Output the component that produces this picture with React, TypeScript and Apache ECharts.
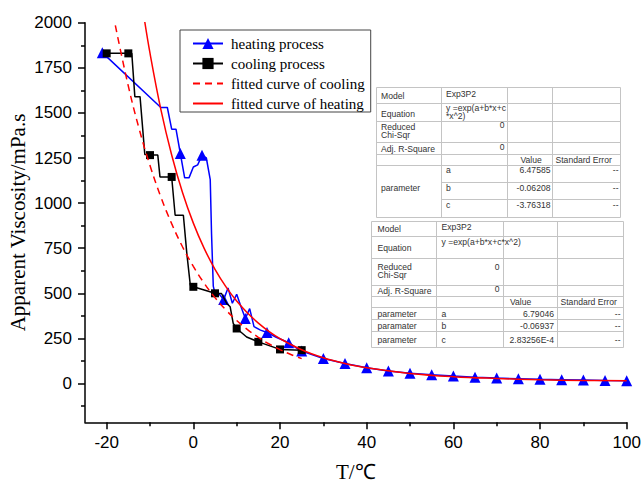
import React, { useEffect, useRef } from "react";
import * as echarts from "echarts";

// ---------- data ----------
const heatingT = [-21, -7.5, -6, -5, -4, -3, -2, -1, 0, 1, 2, 3, 3.9, 4.2, 4.6, 5, 6, 7, 8, 9, 10, 11, 12, 13, 14, 15.5, 17, 19, 22, 24, 25, 30, 35, 40, 45, 50, 55, 60, 65, 70, 75, 80, 85, 90, 95, 100];
const heatingV = [1834, 1530, 1530, 1410, 1410, 1275, 1140, 1140, 1200, 1212, 1265, 1250, 1130, 830, 540, 500, 495, 465, 530, 445, 495, 425, 360, 415, 315, 296, 283, 258, 226, 194, 180, 139, 111, 87, 70, 57, 48, 41, 35, 30, 27, 23, 21, 19, 17, 16];
const heatingMeasuredT = [-21, -3, 2, 7, 12, 17, 22, 25, 30, 35, 40, 45, 50, 55, 60, 65, 70, 75, 80, 85, 90, 95, 100];

const coolingT = [-20, -15, -14.2, -13.5, -12.3, -11.2, -10, -8.2, -7.7, -5, -4.2, -2.3, -1.5, -0.7, 0, 2.7, 5, 6.5, 7.7, 8.5, 9.2, 10, 12.3, 15, 20, 25];
const coolingV = [1830, 1830, 1830, 1590, 1590, 1270, 1266, 1266, 1145, 1145, 933, 933, 720, 545, 536, 517, 500, 499, 444, 425, 333, 305, 258, 231, 189, 185];
const coolingMeasuredT = [-20, -15, -10, -5, 0, 5, 10, 15, 20, 25];

const fitCoolT = [-18, -15, -12.5, -10, -7.5, -5, -2.5, 0, 2.5, 5, 7.5, 10, 12.5, 15, 17.5, 20, 22.5, 25];
const fitCoolV = [1985, 1648, 1411, 1208, 1034, 886, 758, 649, 556, 476, 408, 349, 299, 256, 219, 188, 161, 138];

const fitHeatT = [-11.5, -10, -7.5, -5, -2.5, 0, 2.5, 5, 7.5, 10, 12.5, 15, 17.5, 20, 25, 30, 35, 40, 50, 60, 70, 80, 90, 100];
const fitHeatV = [2050, 1831, 1520, 1267, 1059, 889, 749, 633, 537, 457, 391, 335, 288, 249, 187, 143, 111, 87, 56, 38, 28, 21, 17, 15];

const seriesNames = ["heating process", "cooling process", "fitted curve of cooling", "fitted curve of heating"];

const xTicks = [-20, 0, 20, 40, 60, 80, 100];
const xMinorTicks = [-10, 10, 30, 50, 70, 90];
const yTicks = [0, 250, 500, 750, 1000, 1250, 1500, 1750, 2000];
const yMinorTicks = [-125, 125, 375, 625, 875, 1125, 1375, 1625, 1875];

// fit table 1 (cooling)
const fit1Model = "Exp3P2";
const fit1EquationLines = ["y =exp(a+b*x+c", "*x^2)"];
const fit1Chi = "0";
const fit1R2 = "0";
const fit1Names = ["a", "b", "c"];
const fit1Values = ["6.47585", "-0.06208", "-3.76318"];
const fit1Errors = ["--", "--", "--"];

// fit table 2 (heating)
const fit2Model = "Exp3P2";
const fit2Equation = "y =exp(a+b*x+c*x^2)";
const fit2Chi = "0";
const fit2R2 = "0";
const fit2RowLabels = ["parameter", "paramater", "parameter"];
const fit2Names = ["a", "b", "c"];
const fit2Values = ["6.79046", "-0.06937", "2.83256E-4"];
const fit2Errors = ["--", "--", "--"];

// ---------- styles ----------
const SERIF = '"Times New Roman", "Liberation Serif", serif';
const SANS = 'Arial, "Liberation Sans", sans-serif';
const GRID_STROKE = "#c4c4c4";

function line(x1: number, y1: number, x2: number, y2: number) {
  return { type: "line", silent: true, shape: { x1, y1, x2, y2 }, style: { stroke: GRID_STROKE, lineWidth: 1 } };
}
function txt(text: string, x: number, y: number, align: string = "left") {
  return {
    type: "text",
    silent: true,
    x,
    y,
    style: { text, fill: "#333", fontSize: 8.6, fontFamily: SANS, align, verticalAlign: "middle", lineHeight: 9 },
  };
}

function buildTable1() {
  const c = [376.5, 441.5, 507.5, 552.5, 620.5];
  const r = [87.5, 103.5, 121.5, 142.5, 154.5, 165.5, 182.5, 199.5, 217.5];
  const els: any[] = [];
  els.push({ type: "rect", silent: true, shape: { x: c[0], y: r[0], width: c[4] - c[0], height: r[8] - r[0] }, style: { fill: "#fff", stroke: GRID_STROKE, lineWidth: 1 } });
  for (let i = 1; i < 4; i++) els.push(line(c[i], r[0], c[i], r[8]));
  for (let j = 1; j < 6; j++) els.push(line(c[0], r[j], c[4], r[j]));
  for (let j = 6; j < 8; j++) els.push(line(c[1], r[j], c[4], r[j]));
  els.push(txt("Model", 381, 95.5));
  els.push(txt(fit1Model, 446, 93.5));
  els.push(txt("Equation", 381, 114));
  els.push(txt(fit1EquationLines[0], 446, 107.5));
  els.push(txt(fit1EquationLines[1], 446, 116.3));
  els.push(txt("Reduced", 381, 126.5));
  els.push(txt("Chi-Sqr", 381, 135.3));
  els.push(txt(fit1Chi, 504.5, 124.5, "right"));
  els.push(txt("Adj. R-Square", 381, 148.5));
  els.push(txt(fit1R2, 504.5, 146.5, "right"));
  els.push(txt("Value", 520.5, 159.5));
  els.push(txt("Standard Error", 555.5, 159.5));
  els.push(txt("parameter", 381, 188));
  const ys = [170, 187.5, 205];
  fit1Names.forEach((n, i) => {
    els.push(txt(n, 446, ys[i]));
    els.push(txt(fit1Values[i], 550.5, ys[i], "right"));
    els.push(txt(fit1Errors[i], 618.5, ys[i], "right"));
  });
  return els;
}

function buildTable2() {
  const c = [371.5, 436.5, 503.5, 557.5, 623.5];
  const r = [221.5, 236.5, 258.5, 285.5, 296.5, 307.5, 319.5, 331.5, 347.5];
  const els: any[] = [];
  els.push({ type: "rect", silent: true, shape: { x: c[0], y: r[0], width: c[4] - c[0], height: r[8] - r[0] }, style: { fill: "#fff", stroke: GRID_STROKE, lineWidth: 1 } });
  for (let i = 1; i < 4; i++) els.push(line(c[i], r[0], c[i], r[8]));
  for (let j = 1; j < 8; j++) els.push(line(c[0], r[j], c[4], r[j]));
  els.push(txt("Model", 377.5, 229.3));
  els.push(txt(fit2Model, 441.5, 226.5));
  els.push(txt("Equation", 377.5, 248.3));
  els.push(txt(fit2Equation, 441.5, 242));
  els.push(txt("Reduced", 377.5, 266.5));
  els.push(txt("Chi-Sqr", 377.5, 275.3));
  els.push(txt(fit2Chi, 499.5, 266.7, "right"));
  els.push(txt("Adj. R-Square", 377.5, 290.7));
  els.push(txt(fit2R2, 499.5, 289, "right"));
  els.push(txt("Value", 510, 301.7));
  els.push(txt("Standard Error", 560.5, 301.7));
  const ys = [313.5, 325.8, 340];
  fit2Names.forEach((n, i) => {
    els.push(txt(fit2RowLabels[i], 377.5, ys[i]));
    els.push(txt(n, 441.5, ys[i]));
    els.push(txt(fit2Values[i], 554, ys[i], "right"));
    els.push(txt(fit2Errors[i], 620.5, ys[i], "right"));
  });
  return els;
}

function markedData(ts: number[], vs: number[], measured: number[], symbol: string) {
  const set = new Set(measured);
  return ts.map((t, i) => ({ value: [t, vs[i]], symbol: set.has(t) ? symbol : "none" }));
}

export default function App() {
  const ref = useRef<HTMLDivElement>(null);
  useEffect(() => {
    if (!ref.current) return;
    const chart = echarts.init(ref.current, null, { renderer: "svg" });
    const axisLineStyle = { color: "#000", width: 1.5 };
    const plain = (v: number) => String(v);
    const option: any = {
      animation: false,
      backgroundColor: "#fff",
      grid: { left: 85, right: 16.3, top: 22.7, bottom: 66.7, containLabel: false, outerBoundsMode: "none" },
      legend: {
        data: [
          { name: seriesNames[0] },
          { name: seriesNames[1] },
          { name: seriesNames[2], itemStyle: { opacity: 0 } },
          { name: seriesNames[3], itemStyle: { opacity: 0 } },
        ],
        orient: "vertical",
        left: 180,
        top: 30,
        padding: [6, 6, 1, 12],
        itemGap: 5,
        itemWidth: 30,
        itemHeight: 14,
        borderColor: "#444",
        borderWidth: 1,
        borderRadius: 0,
        backgroundColor: "#fff",
        selectedMode: false,
        textStyle: { fontFamily: SERIF, fontSize: 15, color: "#000", padding: [0, 0, 0, 3] },
      },
      xAxis: [
        {
          type: "value",
          min: -25,
          max: 100,
          position: "bottom",
          axisLine: { show: true, onZero: false, lineStyle: axisLineStyle },
          axisTick: { show: true, length: 7, customValues: xTicks, lineStyle: axisLineStyle },
          axisLabel: { customValues: xTicks, formatter: plain, fontSize: 17, fontFamily: SANS, color: "#000", margin: 12 },
          splitLine: { show: false },
          name: "T/℃",
          nameLocation: "middle",
          nameGap: 39,
          nameMoveOverlap: false,
          nameTextStyle: { fontFamily: SERIF, fontSize: 21, color: "#000" },
        },
        {
          type: "value",
          min: -25,
          max: 100,
          position: "bottom",
          axisLine: { show: false, onZero: false },
          axisTick: { show: true, length: 4, customValues: xMinorTicks, lineStyle: axisLineStyle },
          axisLabel: { show: false },
          splitLine: { show: false },
        },
      ],
      yAxis: [
        {
          type: "value",
          min: -215,
          max: 2000,
          position: "left",
          axisLine: { show: true, onZero: false, lineStyle: axisLineStyle },
          axisTick: { show: true, length: 7, customValues: yTicks, lineStyle: axisLineStyle },
          axisLabel: { customValues: yTicks, formatter: plain, fontSize: 17, fontFamily: SANS, color: "#000", margin: 13 },
          splitLine: { show: false },
          name: "Apparent Viscosity/mPa.s",
          nameLocation: "middle",
          nameGap: 57,
          nameMoveOverlap: false,
          nameTextStyle: { fontFamily: SERIF, fontSize: 21, color: "#000" },
        },
        {
          type: "value",
          min: -215,
          max: 2000,
          position: "left",
          axisLine: { show: false, onZero: false },
          axisTick: { show: true, length: 4, customValues: yMinorTicks, lineStyle: axisLineStyle },
          axisLabel: { show: false },
          splitLine: { show: false },
        },
      ],
      series: [
        {
          name: seriesNames[0],
          type: "line",
          xAxisIndex: 0,
          yAxisIndex: 0,
          symbol: "triangle",
          symbolSize: 11,
          showAllSymbol: true,
          color: "#0000ff",
          itemStyle: { color: "#0000ff" },
          lineStyle: { color: "#0000ff", width: 1.5 },
          data: markedData(heatingT, heatingV, heatingMeasuredT, "triangle"),
          z: 2,
        },
        {
          name: seriesNames[1],
          type: "line",
          xAxisIndex: 0,
          yAxisIndex: 0,
          symbol: "rect",
          symbolSize: 8,
          showAllSymbol: true,
          color: "#000",
          itemStyle: { color: "#000" },
          lineStyle: { color: "#000", width: 1.5 },
          data: markedData(coolingT, coolingV, coolingMeasuredT, "rect"),
          z: 3,
        },
        {
          name: seriesNames[2],
          type: "line",
          xAxisIndex: 0,
          yAxisIndex: 0,
          symbol: "none",
          smooth: 0.4,
          color: "#ff0000",
          lineStyle: { color: "#ff0000", width: 1.5, type: [7, 5] },
          data: fitCoolT.map((t, i) => [t, fitCoolV[i]]),
          z: 4,
        },
        {
          name: seriesNames[3],
          type: "line",
          xAxisIndex: 0,
          yAxisIndex: 0,
          symbol: "none",
          smooth: 0.4,
          color: "#ff0000",
          lineStyle: { color: "#ff0000", width: 1.5 },
          data: fitHeatT.map((t, i) => [t, fitHeatV[i]]),
          z: 4,
        },
      ],
      graphic: [...buildTable1(), ...buildTable2()],
    };
    chart.setOption(option);
    return () => chart.dispose();
  }, []);
  return <div ref={ref} style={{ position: "fixed", left: 0, top: 0, width: 643, height: 489 }} />;
}
